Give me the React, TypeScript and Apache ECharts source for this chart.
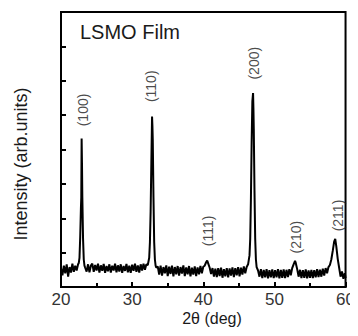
import React, { useEffect, useRef } from "react";
import * as echarts from "echarts";

// 2θ (deg), intensity (arb. units)
const xrdPattern: [number, number][] = [
  [20.0, 0.55], [20.2, 0.34], [20.4, 0.62], [20.6, 0.4], [20.8, 0.66], [21.0, 0.3], [21.2, 0.58],
  [21.4, 0.42], [21.6, 0.68], [21.8, 0.44], [22.0, 0.62], [22.2, 0.48], [22.4, 0.66], [22.5, 0.7],
  [22.6, 0.85], [22.7, 1.45], [22.8, 2.3], [22.85, 2.6], [22.9, 4.32], [22.95, 3.6], [23.0, 2.6],
  [23.1, 1.4], [23.2, 0.8], [23.3, 0.62], [23.4, 0.56],
  [23.6, 0.45], [23.8, 0.66], [24.0, 0.43], [24.2, 0.62], [24.4, 0.68], [24.6, 0.44], [24.8, 0.64],
  [25.0, 0.48], [25.2, 0.68], [25.4, 0.42], [25.6, 0.63], [25.8, 0.47], [26.0, 0.67], [26.2, 0.41],
  [26.4, 0.61], [26.6, 0.46], [26.8, 0.66], [27.0, 0.42], [27.2, 0.62], [27.4, 0.48], [27.6, 0.68],
  [27.8, 0.43], [28.0, 0.63], [28.2, 0.45], [28.4, 0.66], [28.6, 0.41], [28.8, 0.61], [29.0, 0.47],
  [29.2, 0.67], [29.4, 0.43], [29.6, 0.62], [29.8, 0.41], [30.0, 0.65], [30.2, 0.47], [30.4, 0.68],
  [30.6, 0.44], [30.8, 0.63], [31.0, 0.42], [31.2, 0.66], [31.4, 0.48], [31.6, 0.68], [31.8, 0.5],
  [32.0, 0.66], [32.2, 0.64], [32.4, 0.85], [32.5, 1.3], [32.6, 2.2], [32.7, 3.6], [32.8, 4.96],
  [32.85, 4.7], [32.9, 4.3], [33.0, 2.6], [33.1, 1.3], [33.2, 0.8], [33.3, 0.62], [33.4, 0.56],
  [33.6, 0.6], [33.8, 0.36], [34.0, 0.62], [34.2, 0.33], [34.4, 0.58], [34.6, 0.4], [34.8, 0.63],
  [35.0, 0.32], [35.2, 0.59], [35.4, 0.38], [35.6, 0.62], [35.8, 0.31], [36.0, 0.58], [36.2, 0.37],
  [36.4, 0.61], [36.6, 0.33], [36.8, 0.58], [37.0, 0.39], [37.2, 0.63], [37.4, 0.32], [37.6, 0.57],
  [37.8, 0.37], [38.0, 0.61], [38.2, 0.31], [38.4, 0.56], [38.6, 0.36], [38.8, 0.6], [39.0, 0.32],
  [39.2, 0.57], [39.4, 0.37], [39.6, 0.61], [39.8, 0.4], [40.0, 0.59], [40.2, 0.62], [40.4, 0.72],
  [40.55, 0.77], [40.7, 0.68], [40.9, 0.56], [41.1, 0.38],
  [41.3, 0.55], [41.5, 0.3], [41.7, 0.53], [41.9, 0.29], [42.1, 0.55], [42.3, 0.32], [42.5, 0.56],
  [42.7, 0.27], [42.9, 0.52], [43.1, 0.31], [43.3, 0.55], [43.5, 0.28], [43.7, 0.54], [43.9, 0.33],
  [44.1, 0.57], [44.3, 0.29], [44.5, 0.55], [44.7, 0.34], [44.9, 0.58], [45.1, 0.31], [45.3, 0.56],
  [45.5, 0.36], [45.7, 0.6], [45.9, 0.4], [46.1, 0.58], [46.3, 0.66], [46.5, 0.92], [46.6, 1.4],
  [46.7, 2.6], [46.8, 4.2], [46.9, 5.4], [47.0, 5.64], [47.05, 5.2], [47.1, 4.6], [47.2, 2.8],
  [47.3, 1.4], [47.4, 0.8], [47.5, 0.58], [47.7, 0.48],
  [47.9, 0.3], [48.1, 0.52], [48.3, 0.26], [48.5, 0.5], [48.7, 0.28], [48.9, 0.52], [49.1, 0.25],
  [49.3, 0.49], [49.5, 0.28], [49.7, 0.51], [49.9, 0.26], [50.1, 0.49], [50.3, 0.28], [50.5, 0.52],
  [50.7, 0.25], [50.9, 0.5], [51.1, 0.27], [51.3, 0.51], [51.5, 0.26], [51.7, 0.5], [51.9, 0.29],
  [52.1, 0.52], [52.3, 0.34], [52.5, 0.55], [52.7, 0.66], [52.9, 0.76], [53.0, 0.7], [53.2, 0.52],
  [53.4, 0.3], [53.6, 0.5], [53.8, 0.26], [54.0, 0.49], [54.2, 0.27], [54.4, 0.51], [54.6, 0.25],
  [54.8, 0.48], [55.0, 0.27], [55.2, 0.5], [55.4, 0.26], [55.6, 0.49], [55.8, 0.28], [56.0, 0.52],
  [56.2, 0.29], [56.4, 0.5], [56.6, 0.3], [56.8, 0.53], [57.0, 0.33], [57.2, 0.55], [57.4, 0.4],
  [57.6, 0.58], [57.8, 0.64], [58.0, 0.8], [58.2, 1.05], [58.4, 1.32], [58.55, 1.4], [58.7, 1.18],
  [58.9, 0.82], [59.1, 0.56], [59.3, 0.3], [59.5, 0.45], [59.7, 0.24], [59.9, 0.4], [60.0, 0.26],
];

// Miller-index annotations: label text and the (2θ, height) where each label sits
const peakLabels = ["(100)", "(110)", "(200)", "(111)", "(210)", "(211)"];
const peakLabelAngles = [23.05, 32.7, 47.2, 40.7, 53.0, 58.9];
const peakLabelHeights = [5.15, 5.84, 6.51, 1.63, 1.45, 2.08];

const xTicks = [20, 30, 40, 50, 60];
const titleText = "LSMO Film";
const xAxisName = "2θ (deg)";
const yAxisName = "Intensity (arb.units)";

const FONT = "'Liberation Sans', Arial, sans-serif";

export default function App() {
  const ref = useRef<HTMLDivElement>(null);
  useEffect(() => {
    if (!ref.current) return;
    const chart = echarts.init(ref.current, undefined, { renderer: "svg" });
    chart.setOption({
      animation: false,
      grid: {
        left: 61,
        right: 9,
        top: 12,
        bottom: 49,
        show: true,
        borderColor: "#000",
        borderWidth: 2,
        backgroundColor: "transparent",
      },
      graphic: [
        {
          type: "text",
          left: 80,
          top: 22,
          style: { text: titleText, font: `20px ${FONT}`, fill: "#1a1a1a" },
        },
        {
          type: "text",
          x: 21,
          y: 164,
          rotation: Math.PI / 2,
          style: {
            text: yAxisName,
            font: `18px ${FONT}`,
            fill: "#1a1a1a",
            align: "center",
            verticalAlign: "middle",
          },
        },
        {
          type: "text",
          x: 212,
          y: 318,
          style: {
            text: xAxisName,
            font: `16px ${FONT}`,
            fill: "#1a1a1a",
            align: "center",
            verticalAlign: "middle",
          },
        },
      ],
      xAxis: {
        type: "value",
        min: xTicks[0],
        max: xTicks[xTicks.length - 1],
        interval: 10,
        axisLine: { show: true, lineStyle: { color: "#000", width: 2 } },
        axisTick: { show: true, inside: true, length: 5, lineStyle: { color: "#000", width: 2 } },
        minorTick: { show: true, splitNumber: 2, length: 4, lineStyle: { color: "#000", width: 2 } },
        axisLabel: { color: "#333", fontSize: 17, fontFamily: FONT, margin: 4 },
        splitLine: { show: false },
      },
      yAxis: {
        type: "value",
        min: 0,
        max: 8,
        interval: 1,
        axisLine: { show: true, lineStyle: { color: "#000", width: 2 } },
        axisTick: { show: true, inside: true, length: 5, lineStyle: { color: "#000", width: 2 } },
        axisLabel: { show: false },
        splitLine: { show: false },
      },
      series: [
        {
          type: "line",
          data: xrdPattern,
          showSymbol: false,
          symbol: "none",
          lineStyle: { color: "#000", width: 2 },
          silent: true,
        },
        {
          type: "scatter",
          symbolSize: 0,
          silent: true,
          data: peakLabels.map((name, i) => ({
            name,
            value: [peakLabelAngles[i], peakLabelHeights[i]],
          })),
          label: {
            show: true,
            position: "inside",
            rotate: 90,
            formatter: (p: any) => p.name,
            color: "#1a1a1a",
            fontSize: 14,
            fontFamily: FONT,
          },
        },
      ],
    });
    return () => chart.dispose();
  }, []);
  return <div ref={ref} style={{ width: 358, height: 336, margin: -8 }} />;
}
